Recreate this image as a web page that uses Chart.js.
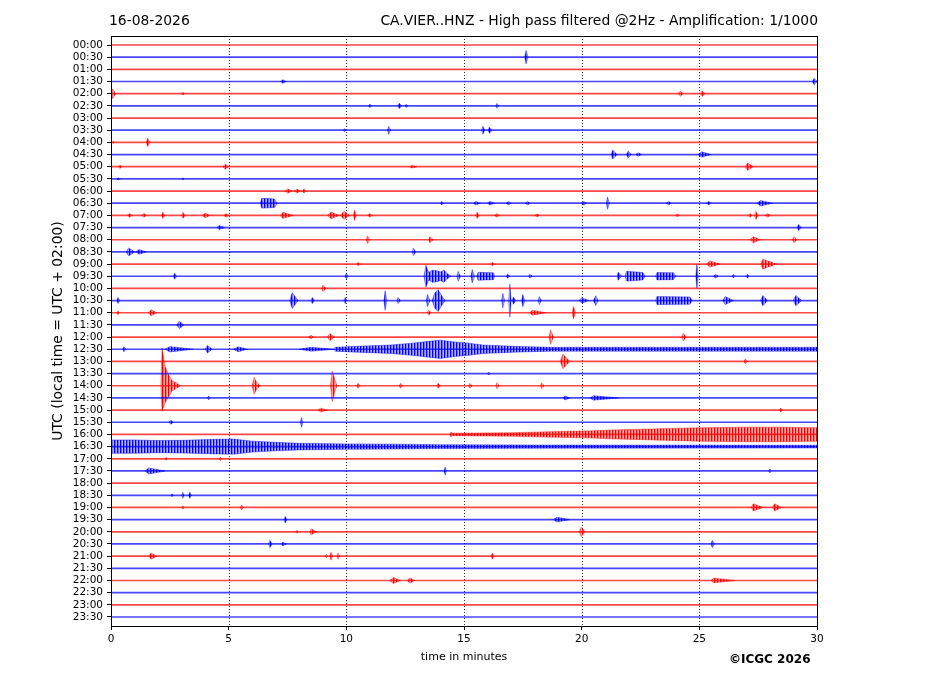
<!DOCTYPE html>
<html><head><meta charset="utf-8">
<script src="https://cdn.jsdelivr.net/npm/chart.js@4.4.0/dist/chart.umd.min.js"></script>
<style>html,body{margin:0;padding:0;background:#fff;}#wrap{width:927px;height:696px;position:relative;}</style>
</head><body><div id="wrap"><canvas id="c" width="927" height="696"></canvas></div>
<script>
const dateLabel = '16-08-2026';
const titleRight = 'CA.VIER..HNZ - High pass filtered @2Hz - Amplification: 1/1000';
const yTitle = 'UTC (local time = UTC + 02:00)';
const xTitle = 'time in minutes';
const credit = '\u00A9ICGC 2026';
const rowLabels = ['00:00','00:30','01:00','01:30','02:00','02:30','03:00','03:30','04:00','04:30',
  '05:00','05:30','06:00','06:30','07:00','07:30','08:00','08:30','09:00','09:30',
  '10:00','10:30','11:00','11:30','12:00','12:30','13:00','13:30','14:00','14:30',
  '15:00','15:30','16:00','16:30','17:00','17:30','18:00','18:30','19:00','19:30',
  '20:00','20:30','21:00','21:30','22:00','22:30','23:00','23:30'];
const xTicks = [0,5,10,15,20,25,30];
const traceColors = [[255,0,0],[0,0,255]];

// simple wave packets: [row, start min, peak min, end min, half amplitude (trace spacings)]
const spindles = [
 [1,17.58,17.64,17.72,0.55],
 [3,7.2,7.3,7.45,0.14],[3,29.8,29.88,30,0.27],
 [4,0.0,0.06,0.2,0.4],[4,3.0,3.05,3.12,0.1],[4,24.12,24.2,24.3,0.22],[4,25.05,25.12,25.25,0.22],
 [5,10.95,11.0,11.08,0.14],[5,12.18,12.25,12.35,0.22],[5,12.5,12.55,12.62,0.14],[5,16.35,16.4,16.48,0.2],
 [7,9.88,9.92,9.98,0.14],[7,11.75,11.8,11.88,0.33],[7,15.75,15.8,15.88,0.33],[7,16.02,16.08,16.2,0.25],
 [8,1.5,1.56,1.66,0.33],[8,0.05,0.1,0.15,0.1],
 [9,21.25,21.32,21.5,0.37],[9,21.9,21.98,22.1,0.3],[9,22.3,22.4,22.55,0.14],[9,24.95,25.1,25.5,0.22],
 [10,0.33,0.38,0.45,0.15],[10,4.75,4.85,5.0,0.2],[10,12.7,12.8,13.0,0.1],[10,26.95,27.05,27.3,0.3],
 [11,0.25,0.3,0.4,0.1],[11,3.0,3.05,3.1,0.1],
 [12,7.4,7.5,7.7,0.18],[12,7.8,7.9,8.05,0.16],[12,8.15,8.2,8.3,0.18],
 [13,14.0,14.05,14.12,0.15],[13,15.4,15.5,15.7,0.15],[13,16.0,16.1,16.3,0.15],[13,16.8,16.9,17.0,0.14],
 [13,17.6,17.7,17.8,0.15],[13,20.0,20.1,20.2,0.15],[13,21.05,21.1,21.18,0.5],[13,23.6,23.7,23.8,0.14],
 [13,25.3,25.4,25.5,0.14],[13,27.45,27.6,28.1,0.22],
 [14,0.7,0.8,0.9,0.15],[14,1.3,1.4,1.5,0.15],[14,2.15,2.2,2.3,0.25],[14,3.0,3.05,3.15,0.25],
 [14,3.9,4.0,4.2,0.2],[14,4.8,4.9,5.0,0.15],[14,7.2,7.3,7.75,0.25],[14,9.2,9.35,9.7,0.28],
 [14,9.75,9.9,10.15,0.33],[14,10.3,10.35,10.42,0.42],[14,10.9,11.0,11.1,0.14],[14,15.5,15.55,15.65,0.25],
 [14,16.3,16.4,16.5,0.15],[14,18.0,18.1,18.2,0.12],[14,24.0,24.05,24.15,0.12],[14,27.1,27.15,27.25,0.16],
 [14,27.35,27.4,27.5,0.33],[14,27.8,27.9,28.0,0.15],
 [15,4.5,4.6,4.85,0.16],[15,29.15,29.22,29.35,0.25],
 [16,10.85,10.9,11.0,0.3],[16,13.5,13.55,13.7,0.25],[16,27.15,27.3,27.6,0.25],[16,28.95,29.02,29.15,0.25],
 [17,0.65,0.75,1.0,0.33],[17,1.05,1.2,1.5,0.2],[17,12.8,12.85,12.95,0.3],
 [18,10.45,10.5,10.6,0.14],[18,16.15,16.2,16.3,0.14],[18,25.3,25.45,25.9,0.25],[18,27.6,27.7,28.3,0.4],
 [19,2.65,2.7,2.8,0.25],[19,9.95,10.0,10.08,0.25],[19,14.7,14.75,14.85,0.4],[19,15.3,15.35,15.45,0.55],
 [19,16.8,16.85,16.95,0.16],[19,17.75,17.8,17.9,0.16],[19,21.5,21.55,21.7,0.33],[19,24.85,24.9,24.95,1.0],
 [19,25.6,25.7,25.8,0.16],[19,26.4,26.45,26.5,0.16],[19,27.0,27.05,27.1,0.16],
 [20,8.95,9.0,9.15,0.25],
 [21,0.25,0.3,0.38,0.25],[21,7.6,7.7,7.95,0.65],[21,8.5,8.55,8.65,0.25],[21,9.9,9.95,10.0,0.25],
 [21,11.6,11.65,11.72,0.8],[21,12.15,12.2,12.3,0.25],[21,13.4,13.45,13.55,0.5],[21,16.6,16.65,16.72,0.6],
 [21,16.9,16.95,17.0,1.35],[21,17.05,17.1,17.2,0.3],[21,17.45,17.5,17.58,0.5],[21,18.15,18.2,18.28,0.33],
 [21,19.9,20.0,20.3,0.22],[21,20.5,20.6,20.7,0.4],[21,26.0,26.1,26.45,0.33],[21,27.6,27.7,27.9,0.42],
 [21,29.0,29.1,29.35,0.42],
 [22,0.25,0.3,0.36,0.16],[22,1.6,1.7,1.95,0.25],[22,13.45,13.5,13.6,0.2],[22,17.8,17.9,18.5,0.2],[22,19.6,19.65,19.75,0.5],
 [23,2.8,2.9,3.1,0.3],
 [24,8.4,8.5,8.6,0.16],[24,9.2,9.3,9.5,0.3],[24,18.62,18.68,18.8,0.6],[24,24.25,24.32,24.45,0.3],
 [25,0.5,0.55,0.65,0.2],[25,2.3,2.5,3.5,0.22],[25,4.0,4.1,4.3,0.3],[25,5.2,5.4,5.8,0.2],[25,8.0,8.5,9.5,0.16],
 [26,19.1,19.2,19.5,0.6],[26,26.9,26.95,27.05,0.2],
 [27,16.0,16.05,16.1,0.12],
 [28,10.45,10.5,10.6,0.2],[28,12.25,12.3,12.4,0.2],[28,13.85,13.9,14.0,0.2],[28,15.2,15.25,15.35,0.2],
 [28,16.35,16.4,16.5,0.25],[28,18.25,18.3,18.4,0.25],
 [29,4.1,4.15,4.2,0.16],[29,19.2,19.3,19.5,0.16],[29,20.35,20.5,21.6,0.18],
 [30,8.8,8.9,9.2,0.16],[30,28.4,28.45,28.55,0.16],
 [31,2.45,2.55,2.65,0.16],[31,8.05,8.1,8.15,0.4],
 [34,2.3,2.35,2.4,0.12],[34,4.6,4.65,4.7,0.15],
 [35,1.45,1.6,2.3,0.25],[35,14.15,14.2,14.25,0.33],[35,27.95,28.0,28.05,0.16],
 [37,2.55,2.6,2.65,0.12],[37,3.0,3.05,3.1,0.25],[37,3.3,3.35,3.42,0.25],
 [38,3.0,3.05,3.1,0.14],[38,5.5,5.55,5.62,0.2],[38,27.2,27.3,27.7,0.3],[38,28.1,28.2,28.5,0.3],
 [39,7.35,7.4,7.48,0.25],[39,18.8,18.95,19.5,0.2],
 [40,7.85,7.9,7.95,0.12],[40,8.45,8.5,8.75,0.25],[40,19.9,19.98,20.15,0.4],
 [41,6.7,6.75,6.85,0.3],[41,7.25,7.3,7.45,0.16],[41,25.5,25.55,25.65,0.3],
 [42,1.6,1.7,1.95,0.25],[42,9.1,9.15,9.2,0.16],[42,9.3,9.35,9.42,0.33],[42,9.6,9.65,9.72,0.25],[42,16.15,16.2,16.28,0.25],
 [44,11.85,12.0,12.3,0.25],[44,12.6,12.7,12.9,0.22],[44,25.5,25.6,26.5,0.2]
];

// longer signals: [row, [[minute, upper amp, (lower amp)], ...]]
const envelopes = [
 [13,[[6.35,0],[6.4,0.4],[6.7,0.38],[6.95,0.35],[7.05,0]]],
 [19,[[13.3,0],[13.38,0.9],[13.5,0.3],[13.65,0.5],[13.85,0.45],[14.0,0.35],[14.15,0.5],[14.3,0.2],[14.45,0]]],
 [19,[[15.55,0],[15.6,0.33],[15.9,0.3],[16.25,0.28],[16.3,0]]],
 [19,[[21.85,0],[21.9,0.4],[22.3,0.35],[22.6,0.3],[22.7,0]]],
 [19,[[23.15,0],[23.2,0.3],[23.9,0.28],[24.0,0]]],
 [21,[[13.65,0],[13.75,0.6],[13.9,0.9],[14.05,0.4],[14.2,0]]],
 [21,[[23.15,0],[23.2,0.33],[24.6,0.3],[24.7,0]]],
 [25,[[9.5,0.16],[10.2,0.22],[11.0,0.28],[11.9,0.35],[12.8,0.5],[13.5,0.65],[14.0,0.75],[14.6,0.6],
      [15.2,0.5],[15.8,0.35],[16.6,0.28],[17.4,0.22],[18.7,0.16],[30,0.16]]],
 [28,[[2.12,0],[2.17,3.1,2.1],[2.3,1.6,1.4],[2.45,0.9,0.9],[2.6,0.4],[2.8,0.2],[2.95,0]]],
 [28,[[6.0,0],[6.08,0.7],[6.2,0.25],[6.35,0]]],
 [28,[[9.33,0],[9.4,1.2,1.3],[9.5,0.6],[9.6,0]]],
 [32,[[14.4,0],[14.45,0.2],[14.5,0.1],[17,0.14],[19,0.24],[20.5,0.3],[21.2,0.36],[23,0.45],[25,0.55],
      [27,0.6],[28.5,0.6],[30,0.55]]],
 [33,[[0,0.55],[1,0.55],[2,0.5],[3,0.52],[4.5,0.6],[5.2,0.62],[6,0.45],[7,0.35],[8,0.27],[10,0.22],
      [12,0.2],[14,0.16],[18,0.13],[30,0.11]]]
];

function rgba(c, a) { return 'rgba(' + c[0] + ',' + c[1] + ',' + c[2] + ',' + a + ')'; }
function stripePattern(c) {
  const pc = document.createElement('canvas');
  pc.width = 3; pc.height = 1;
  const g = pc.getContext('2d');
  g.fillStyle = rgba(c, 1); g.fillRect(0, 0, 1, 1);
  g.fillStyle = rgba(c, 0.55); g.fillRect(1, 0, 1, 1);
  g.fillStyle = rgba(c, 0.3); g.fillRect(2, 0, 1, 1);
  return document.getElementById('c').getContext('2d').createPattern(pc, 'repeat');
}
const patterns = traceColors.map(stripePattern);

const datasets = [];
rowLabels.forEach((lab, r) => {
  datasets.push({data:[{x:0,y:r},{x:30,y:r}], borderColor: rgba(traceColors[r % 2], 0.72), borderWidth: 1.7,
    pointRadius: 0, fill: false});
});
function shapeFrom(row, pts) {
  const top = pts.map(p => ({x:p[0], y: row - p[1]}));
  const bot = pts.slice().reverse().map(p => ({x:p[0], y: row + (p.length > 2 ? p[2] : p[1])}));
  const c = traceColors[row % 2];
  return {data: top.concat(bot), borderColor: rgba(c, 0.6), backgroundColor: patterns[row % 2], borderWidth: 0.7,
    pointRadius: 0, fill: 'shape', tension: 0};
}
spindles.forEach(s => datasets.push(shapeFrom(s[0], [[s[1],0],[s[2],s[4]],[s[3],0]])));
envelopes.forEach(e => datasets.push(shapeFrom(e[0], e[1])));

const frame = {
  id: 'frame',
  beforeDatasetsDraw(chart) {
    const {ctx, chartArea: a, scales: {x}} = chart;
    ctx.save();
    ctx.strokeStyle = '#000'; ctx.lineWidth = 0.8; ctx.setLineDash([1, 2]);
    xTicks.forEach(v => {
      if (v <= 0 || v >= 30) return;
      const px = Math.round(x.getPixelForValue(v)) + 0.5;
      ctx.beginPath(); ctx.moveTo(px, a.top); ctx.lineTo(px, a.bottom); ctx.stroke();
    });
    ctx.restore();
  },
  afterDraw(chart) {
    const {ctx, chartArea: a} = chart;
    ctx.save();
    ctx.strokeStyle = '#000'; ctx.lineWidth = 1;
    ctx.strokeRect(a.left + 0.5, a.top + 0.5, a.right - a.left, a.bottom - a.top);
    ctx.fillStyle = '#000';
    ctx.font = '13.9px "DejaVu Sans"';
    ctx.textBaseline = 'alphabetic';
    ctx.textAlign = 'left'; ctx.fillText(dateLabel, 109, 25);
    ctx.textAlign = 'right'; ctx.fillText(titleRight, 818, 25);
    ctx.font = '11px "DejaVu Sans"'; ctx.textAlign = 'center';
    ctx.fillText(xTitle, (a.left + a.right) / 2, 660);
    ctx.font = 'bold 12px "DejaVu Sans"'; ctx.textAlign = 'left';
    ctx.fillText(credit, 729, 663);
    ctx.translate(62, (a.top + a.bottom) / 2);
    ctx.rotate(-Math.PI / 2);
    ctx.font = '13.9px "DejaVu Sans"'; ctx.textAlign = 'center';
    ctx.fillText(yTitle, 0, 0);
    ctx.restore();
  }
};

new Chart(document.getElementById('c'), {
  type: 'line',
  data: {datasets},
  plugins: [frame],
  options: {
    responsive: false, animation: false, devicePixelRatio: 1,
    layout: {padding: {top: 36, right: 110, bottom: 0, left: 0}},
    plugins: {legend: {display: false}, tooltip: {enabled: false}},
    elements: {line: {tension: 0}},
    scales: {
      x: {type: 'linear', min: 0, max: 30,
        afterBuildTicks: s => { s.ticks = xTicks.map(v => ({value: v})); },
        afterFit: s => { s.height = 70; },
        ticks: {color: '#000', font: {family: 'DejaVu Sans', size: 10.5}, padding: 3, maxRotation: 0},
        grid: {drawOnChartArea: false, tickLength: 4, tickColor: '#000', color: '#000'},
        border: {display: false}},
      y: {type: 'linear', min: -0.74, max: 47.74, reverse: true,
        afterBuildTicks: s => { s.ticks = rowLabels.map((l, i) => ({value: i})); },
        afterFit: s => { s.width = 111; },
        ticks: {autoSkip: false, color: '#000', font: {family: 'DejaVu Sans', size: 10.5}, padding: 4,
          callback: v => rowLabels[Math.round(v)]},
        grid: {drawOnChartArea: false, tickLength: 4, tickColor: '#000', color: '#000'},
        border: {display: false}}
    }
  }
});
</script></body></html>
